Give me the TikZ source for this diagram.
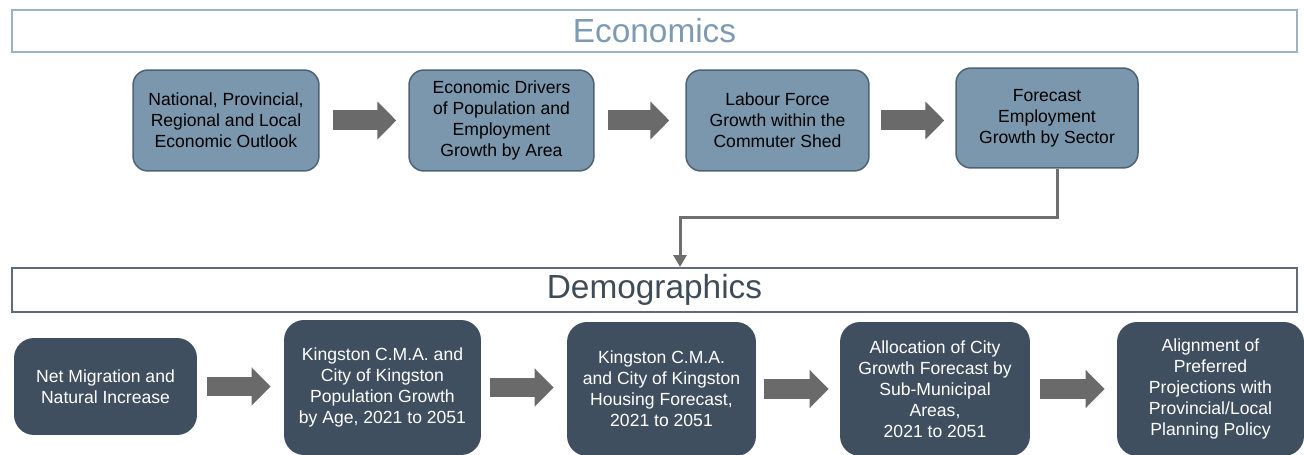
\documentclass[tikz,border=0pt]{standalone}
\usepackage{fontspec}
\setmainfont{Liberation Sans}
\usetikzlibrary{arrows.meta}

\definecolor{econfill}{HTML}{7A97AD}
\definecolor{econline}{HTML}{4E6276}
\definecolor{econhd}{HTML}{9DB3C4}
\definecolor{econtxt}{HTML}{7D9AB2}
\definecolor{demofill}{HTML}{3F4F5F}
\definecolor{demohd}{HTML}{5E6C79}
\definecolor{demotxt}{HTML}{3E4B58}
\definecolor{arrowgray}{HTML}{6A6A6A}
\definecolor{linegray}{HTML}{6E6E6E}

\tikzset{
    econbox/.style={draw=econline, line width=0.03cm, fill=econfill, rounded corners=0.3cm,
        align=center, inner sep=0pt, font=\fontsize{10}{12}\selectfont},
    demobox/.style={fill=demofill, rounded corners=0.4cm, text=white,
        align=center, inner sep=0pt, font=\fontsize{10}{12}\selectfont},
    econhead/.style={draw=econhd, line width=0.04cm, text=econtxt, minimum width=25.7cm,
        minimum height=0.84cm, inner sep=0pt, font=\fontsize{19}{23}\selectfont},
    demohead/.style={draw=demohd, line width=0.04cm, text=demotxt, minimum width=25.7cm,
        minimum height=0.88cm, inner sep=0pt, font=\fontsize{19}{23}\selectfont},
    bigarrow/.style={draw=arrowgray, line width=0.4cm, -{Triangle[length=0.38cm,width=0.74cm]}},
    feedline/.style={draw=linegray, line width=0.06cm, -{Triangle[length=0.24cm,width=0.26cm]}}
}

\begin{document}
\begin{tikzpicture}[x=0.02cm,y=-0.02cm]
    \useasboundingbox (0,0) rectangle (1304,455);
    \clip (0,0) rectangle (1304,455);

    % economics row
    \node[econhead] (ehead) at (654.5,31) {\raisebox{-0.05cm}{Economics}};
    \node[econbox, minimum width=3.72cm, minimum height=2.02cm] (e1) at (226,120.5)
        {National, Provincial,\\Regional and Local\\Economic Outlook};
    \node[econbox, minimum width=3.70cm, minimum height=2.02cm] (e2) at (501.5,120.5)
        {Economic Drivers\\of Population and\\Employment\\Growth by Area};
    \node[econbox, minimum width=3.66cm, minimum height=2.02cm] (e3) at (777.5,120.5)
        {Labour Force\\Growth within the\\Commuter Shed};
    \node[econbox, minimum width=3.64cm, minimum height=2.0cm] (e4) at (1047,118)
        {Forecast\\Employment\\Growth by Sector};

    \draw[bigarrow, shorten <=0.26cm, shorten >=0.24cm] (e1.east) -- (e2.west);
    \draw[bigarrow, shorten <=0.26cm, shorten >=0.32cm] (e2.east) -- (e3.west);
    \draw[bigarrow, shorten <=0.22cm, shorten >=0.22cm] (e3.east) -- (e3.east -| e4.west);

    % demographics row
    \node[demohead] (dhead) at (654.5,290) {\raisebox{-0.08cm}{Demographics}};
    \node[demobox, minimum width=3.66cm, minimum height=1.94cm] (d1) at (105.5,386.5)
        {Net Migration and\\Natural Increase};
    \node[demobox, minimum width=3.94cm, minimum height=2.7cm] (d2) at (382.5,387.5)
        {Kingston C.M.A. and\\City of Kingston\\Population Growth\\by Age, 2021 to 2051};
    \node[demobox, minimum width=3.78cm, minimum height=2.68cm] (d3) at (661.5,389)
        {Kingston C.M.A.\\and City of Kingston\\Housing Forecast,\\2021 to 2051};
    \node[demobox, minimum width=3.80cm, minimum height=2.68cm] (d4) at (935,389)
        {Allocation of City\\Growth Forecast by\\Sub-Municipal\\Areas,\\2021 to 2051};
    \node[demobox, minimum width=3.74cm, minimum height=2.68cm] (d5) at (1210.5,389)
        {Alignment of\\Preferred\\Projections with\\Provincial/Local\\Planning Policy};

    \draw[bigarrow, shorten <=0.2cm, shorten >=0.26cm] (d1.east) -- (d1.east -| d2.west);
    \draw[bigarrow, shorten <=0.18cm, shorten >=0.26cm] (d2.east) -- (d2.east -| d3.west);
    \draw[bigarrow, shorten <=0.16cm, shorten >=0.22cm] (d3.east) -- (d4.west);
    \draw[bigarrow, shorten <=0.2cm, shorten >=0.24cm] (d4.east) -- (d5.west);

    % link between the two rows
    \coordinate (bend) at (680,218);
    \draw[feedline] ([xshift=0.2cm]e4.south) |- (bend) -- (bend |- dhead.north);
\end{tikzpicture}
\end{document}
